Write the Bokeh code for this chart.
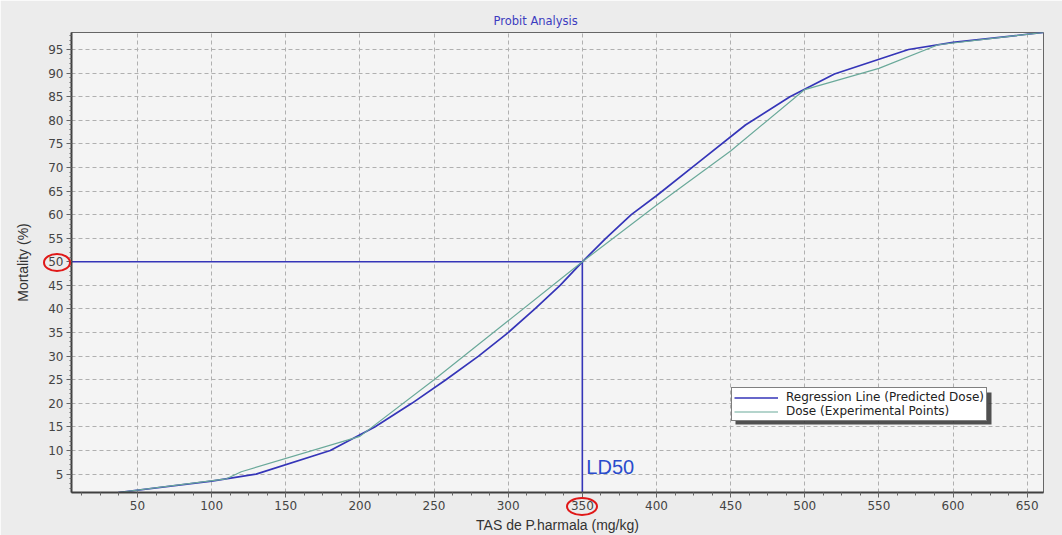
import numpy as np
from bokeh.plotting import figure
from bokeh.models import Range1d, FixedTicker, Label, Legend, LegendItem, BoxAnnotation
from bokeh.embed import file_html
from bokeh.resources import INLINE

# ---- data ----
reg_dose = [37, 100, 130, 180, 210, 235, 258, 280, 300, 318, 335, 350, 366, 383, 400, 430, 460, 490, 520, 570, 600, 661]
reg_mort = [1.1, 3.5, 5.0, 10.0, 15.0, 20.0, 25.0, 30.0, 35.0, 40.0, 45.0, 50.0, 55.0, 60.0, 64.0, 71.5, 79.0, 85.0, 89.8, 95.0, 96.5, 98.6]

exp_dose = [37, 110, 120, 200, 250, 300, 350, 400, 450, 500, 550, 590, 661]
exp_mort = [1.1, 4.0, 5.5, 13.0, 25.0, 37.5, 50.0, 62.0, 73.5, 86.5, 91.0, 96.0, 98.6]

ld50_dose = 350
ld50_pct = 50

x_ticks = [50, 100, 150, 200, 250, 300, 350, 400, 450, 500, 550, 600, 650]
y_ticks = [5, 10, 15, 20, 25, 30, 35, 40, 45, 50, 55, 60, 65, 70, 75, 80, 85, 90, 95]

x_lo, x_hi = 5.5, 661
y_lo, y_hi = 1.1, 98.6

BLUE = "#3535b8"
TEAL = "#6aa99a"

p = figure(width=1062, height=535, output_backend="svg", toolbar_location=None,
           x_range=Range1d(x_lo, x_hi), y_range=Range1d(y_lo, y_hi),
           min_border_left=71, min_border_right=19, min_border_top=32, min_border_bottom=41)

p.title.text = "Probit Analysis"
p.title.text_font = "DejaVu Sans"
p.title.text_font_size = "11.5px"
p.title.text_font_style = "normal"
p.title.text_color = "#3c3cc0"
p.title.align = "left"
p.title.offset = 422

p.border_fill_color = "#ececec"
p.background_fill_color = "#f4f4f4"
p.outline_line_color = "#666666"
p.outline_line_width = 1

for ax in (p.xaxis[0], p.yaxis[0]):
    ax.axis_line_color = "#404040"
    ax.axis_line_width = 2
    ax.major_tick_line_color = "#666666"
    ax.minor_tick_line_color = "#666666"
    ax.major_tick_in = 0
    ax.major_tick_out = 5
    ax.minor_tick_in = 0
    ax.minor_tick_out = 3
    ax.major_label_text_font = "DejaVu Sans"
    ax.major_label_text_font_size = "12px"
    ax.major_label_text_color = "#444444"
    ax.axis_label_text_font = "Liberation Sans"
    ax.axis_label_text_font_size = "14px"
    ax.axis_label_text_font_style = "normal"
    ax.axis_label_text_color = "#333333"
    ax.major_label_standoff = 3

p.xaxis.ticker = FixedTicker(ticks=x_ticks, minor_ticks=list(np.arange(12.5, 661, 12.5)))
p.yaxis.ticker = FixedTicker(ticks=y_ticks, minor_ticks=list(range(2, 99)))
p.yaxis.minor_tick_out = 2
p.xaxis.axis_label = "TAS de P.harmala (mg/kg)"
p.yaxis.axis_label = "Mortality (%)"
p.xaxis.axis_label_standoff = 4
p.yaxis.axis_label_standoff = 14

p.grid.grid_line_color = "#b0b0b0"
p.grid.grid_line_dash = "4 3"
p.grid.grid_line_width = 1

# LD50 guide lines
p.segment(x0=[x_lo, ld50_dose], y0=[ld50_pct, y_lo], x1=[ld50_dose, ld50_dose], y1=[ld50_pct, ld50_pct],
          line_color=BLUE, line_width=1.6)

r_reg = p.line(reg_dose, reg_mort, line_color=BLUE, line_width=1.7)
r_exp = p.line(exp_dose, exp_mort, line_color=TEAL, line_width=1.2)

p.add_layout(Label(x=ld50_dose, y=6.4, x_offset=4, text="LD50", text_font="Liberation Sans",
                   text_font_size="20px", text_color="#2a4ccc", text_baseline="alphabetic"))

# legend drop shadow (screen units relative to the plot frame)
p.add_layout(BoxAnnotation(left=664, right=920, bottom=68, top=100,
                           left_units="screen", right_units="screen",
                           bottom_units="screen", top_units="screen",
                           fill_color="#333333", fill_alpha=0.85, line_alpha=0))

legend = Legend(items=[LegendItem(label="Regression Line (Predicted Dose)", renderers=[r_reg]),
                       LegendItem(label="Dose (Experimental Points)", renderers=[r_exp])],
                location=(660, 71), orientation="vertical")
legend.label_text_font = "DejaVu Sans"
legend.label_text_font_size = "12px"
legend.label_text_color = "#222222"
legend.border_line_color = "black"
legend.border_line_width = 1
legend.background_fill_color = "white"
legend.background_fill_alpha = 1
legend.padding = 2
legend.spacing = 0
legend.margin = 0
legend.label_height = 13
legend.glyph_height = 13
legend.glyph_width = 44
legend.label_standoff = 8
p.add_layout(legend, "center")

html = file_html(p, INLINE)

# red hand-drawn circles around the "50" and "350" tick labels (outside the plot frame,
# so they are drawn as page overlays)
circles = [(43, 253, 28, 19), (566, 497, 32, 19)]
overlay = "".join(
    '<div style="position:absolute;left:%dpx;top:%dpx;width:%dpx;height:%dpx;'
    'box-sizing:border-box;border:2px solid #e01818;border-radius:50%%;'
    'pointer-events:none;z-index:10;"></div>' % c for c in circles)
html = html.replace("</body>", overlay + "</body>")

open("out.html", "w").write(html)
